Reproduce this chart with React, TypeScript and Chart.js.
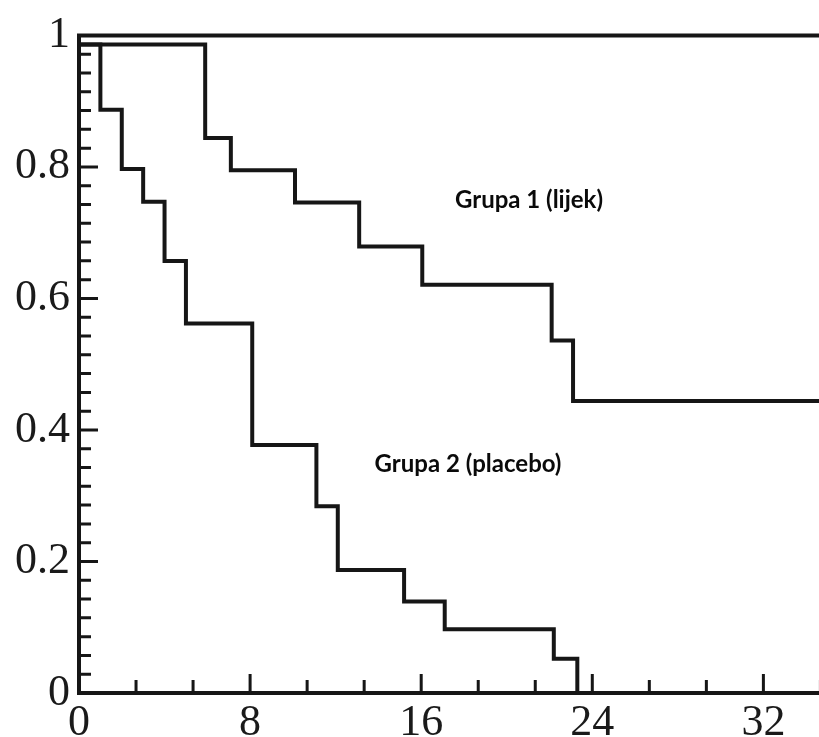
import React, { useEffect, useRef } from "react";
import { Chart, registerables } from "chart.js";

Chart.register(...registerables);

// Kaplan–Meier style step data
const placeboTimes = [0, 1, 2, 3, 4, 5, 8.1, 11.1, 12.1, 15.2, 17.1, 22.2, 23.3];
const placeboSurv = [0.986, 0.887, 0.797, 0.747, 0.657, 0.562, 0.377, 0.284, 0.187, 0.139, 0.097, 0.052, 0];
const drugTimes = [0, 5.9, 7.1, 10.1, 13.1, 16.05, 22.1, 23.1, 34.6];
const drugSurv = [0.986, 0.844, 0.795, 0.746, 0.679, 0.621, 0.536, 0.444, 0.444];

const xTickValues = [0, 8, 16, 24, 32];
const yTickValues = [0, 0.2, 0.4, 0.6, 0.8, 1];

const groupLabels = ["Grupa 1 (lijek)", "Grupa 2 (placebo)"];
const groupLabelX = [21.04, 18.19];
const groupLabelY = [0.75, 0.348];

const X_MAX = 34.6;
const INK = "#161616";

const framePlugin = {
  id: "frameTicks",
  beforeDatasetsDraw(chart: any) {
    const ctx = chart.ctx;
    const xs = chart.scales.x;
    const ys = chart.scales.y;
    const { left, right, top, bottom } = chart.chartArea;
    ctx.save();
    ctx.strokeStyle = INK;
    ctx.lineWidth = 4;
    ctx.lineCap = "butt";
    ctx.beginPath();
    ctx.moveTo(right + 2, top);
    ctx.lineTo(left, top);
    ctx.lineTo(left, bottom);
    ctx.lineTo(right + 2, bottom);
    ctx.stroke();

    ctx.lineWidth = 3;
    ctx.beginPath();
    // y ticks: 7 sub-intervals per 0.2
    for (let i = 1; i < 35; i++) {
      const v = (i * 0.2) / 7;
      const py = ys.getPixelForValue(v);
      const len = i % 7 === 0 ? 19 : 12;
      ctx.moveTo(left, py);
      ctx.lineTo(left + len, py);
    }
    // x ticks: 3 sub-intervals per 8
    for (let i = 1; ; i++) {
      const v = (i * 8) / 3;
      if (v > xs.max + 0.2) break;
      const px = xs.getPixelForValue(v);
      const len = i % 3 === 0 ? 19 : 13;
      ctx.moveTo(px, bottom);
      ctx.lineTo(px, bottom - len);
    }
    ctx.stroke();
    ctx.restore();
  },
  afterDraw(chart: any) {
    const ctx = chart.ctx;
    const xs = chart.scales.x;
    const ys = chart.scales.y;
    ctx.save();
    ctx.fillStyle = "#0a0a0a";
    ctx.font = "bold 24px Lato";
    ctx.textAlign = "center";
    ctx.textBaseline = "middle";
    groupLabels.forEach((t, i) => {
      ctx.fillText(t, xs.getPixelForValue(groupLabelX[i]), ys.getPixelForValue(groupLabelY[i]));
    });
    ctx.restore();
  },
};

export default function App() {
  const ref = useRef<HTMLCanvasElement | null>(null);

  useEffect(() => {
    if (!ref.current) return;
    const mk = (ts: number[], vs: number[]) => ts.map((t, i) => ({ x: t, y: vs[i] }));
    const chart = new Chart(ref.current, {
      type: "line",
      data: {
        datasets: [
          {
            label: groupLabels[0],
            data: mk(drugTimes, drugSurv),
            stepped: "before",
            borderColor: INK,
            borderWidth: 4,
            pointRadius: 0,
            fill: false,
          },
          {
            label: groupLabels[1],
            data: mk(placeboTimes, placeboSurv),
            stepped: "before",
            borderColor: INK,
            borderWidth: 4,
            pointRadius: 0,
            fill: false,
          },
        ],
      },
      options: {
        animation: false,
        responsive: false,
        devicePixelRatio: 1,
        layout: { padding: { top: 33, right: 0, left: 0, bottom: 0 } },
        plugins: { legend: { display: false }, tooltip: { enabled: false }, title: { display: false } },
        scales: {
          x: {
            type: "linear",
            min: 0,
            max: X_MAX,
            grid: { display: false, drawTicks: false },
            border: { display: false },
            afterBuildTicks: (s: any) => {
              s.ticks = xTickValues.map((v) => ({ value: v }));
            },
            afterFit: (s: any) => {
              s.height = 44;
            },
            ticks: {
              padding: 4,
              color: "#1a1a1a",
              font: { family: "'Liberation Serif', serif", size: 44 },
              maxRotation: 0,
              autoSkip: false,
              callback: (v: any) => String(v),
            },
          },
          y: {
            type: "linear",
            min: 0,
            max: 1,
            grid: { display: false, drawTicks: false },
            border: { display: false },
            afterBuildTicks: (s: any) => {
              s.ticks = yTickValues.map((v) => ({ value: v }));
            },
            afterFit: (s: any) => {
              s.width = 79;
            },
            ticks: {
              padding: 9,
              color: "#1a1a1a",
              font: { family: "'Liberation Serif', serif", size: 44 },
              autoSkip: false,
              callback: (v: any) => String(v),
            },
          },
        },
      },
      plugins: [framePlugin],
    });
    return () => chart.destroy();
  }, []);

  return (
    <div style={{ position: "absolute", left: 0, top: 0, width: 819, height: 737, background: "#fff" }}>
      <canvas ref={ref} width={819} height={737} />
    </div>
  );
}
